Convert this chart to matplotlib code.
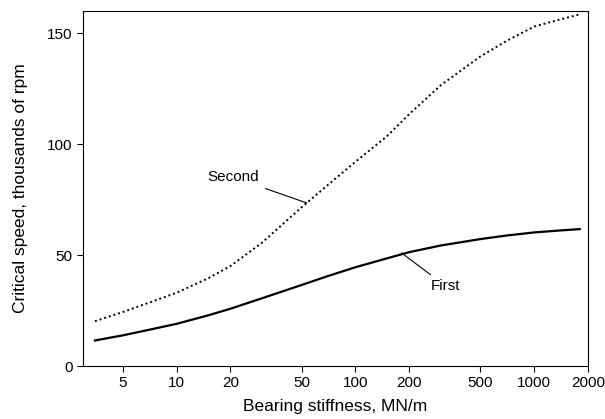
import matplotlib
matplotlib.use("Agg")
import matplotlib.pyplot as plt

stiffness = [3.5, 5, 7, 10, 15, 20, 30, 50, 70, 100, 150, 200, 300, 500, 700, 1000, 1400, 1800]
first = [11.5, 13.8, 16.3, 19, 22.8, 25.8, 30.5, 36.5, 40.5, 44.5, 48.5, 51.3, 54.3, 57.2, 58.8, 60.2, 61.1, 61.7]
second = [20.2, 24.3, 28.5, 33, 39.5, 45, 55.5, 71.5, 81.5, 92, 103.5, 113.5, 126.5, 139.5, 146.5, 153, 156.2, 158.5]
xticks = [5, 10, 20, 50, 100, 200, 500, 1000, 2000]

plt.rcParams['font.family'] = ['Liberation Sans', 'DejaVu Sans']
fig = plt.figure(figsize=(6.05, 4.19), dpi=100)
ax = fig.add_axes([83/605, 1-366/419, 505/605, 355/419])
ax.plot(stiffness, first, color='black', lw=1.6)
ax.plot(stiffness, second, color='black', lw=1.4, ls=(0, (1, 1.5)))
ax.set_xscale('log')
ax.set_xlim(3, 2000)
ax.set_ylim(0, 160)
ax.set_xticks(xticks)
ax.set_xticklabels([str(t) for t in xticks])
ax.minorticks_off()
ax.set_yticks([0, 50, 100, 150])
ax.tick_params(labelsize=11, direction='out', length=4)
ax.set_xlabel('Bearing stiffness, MN/m', fontsize=12.5, labelpad=6)
ax.set_ylabel('Critical speed, thousands of rpm', fontsize=12.5, labelpad=14)
ax.annotate('Second', xy=(53.5, 73.5), xytext=(29, 85), fontsize=11, ha='right', va='center',
            arrowprops=dict(arrowstyle='-', color='black', lw=0.8, shrinkA=3, shrinkB=0))
ax.annotate('First', xy=(181, 51), xytext=(265, 36), fontsize=11, ha='left', va='center',
            arrowprops=dict(arrowstyle='-', color='black', lw=0.8, shrinkA=2, shrinkB=0))
fig.savefig('out.png', dpi=100)
